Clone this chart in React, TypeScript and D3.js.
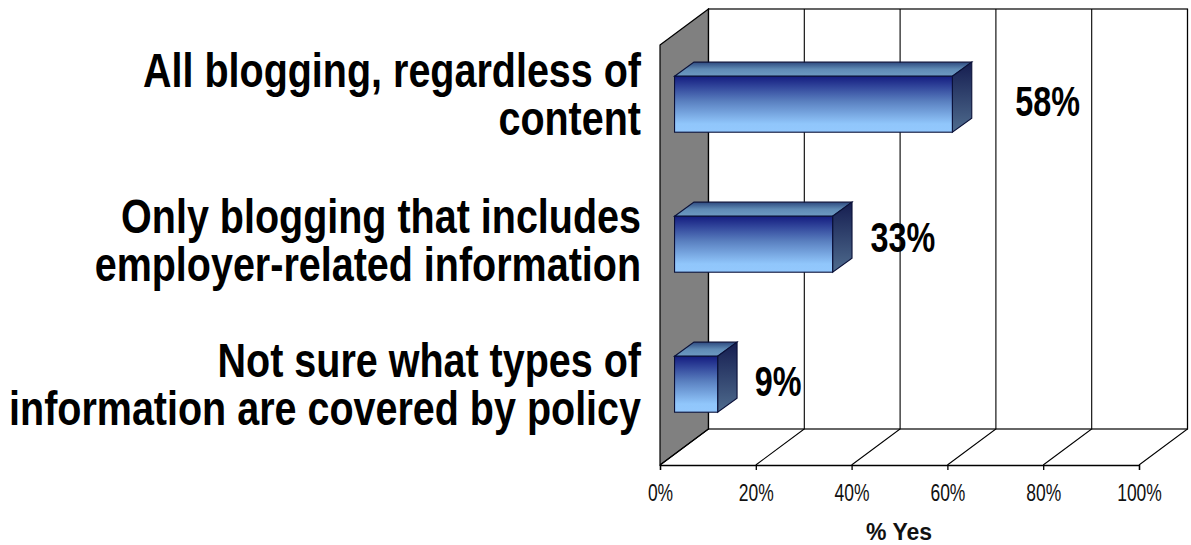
import React, { useEffect, useRef } from 'react';
import * as d3 from 'd3';

const categories = [
  ['All blogging, regardless of', 'content'],
  ['Only blogging that includes', 'employer-related information'],
  ['Not sure what types of', 'information are covered by policy'],
];
const values = [58, 33, 9];
const xTicks = [0, 20, 40, 60, 80, 100];
const xTitle = '% Yes';

const FONT = '"Liberation Sans", Arial, sans-serif';

export default function App() {
  const svgRef = useRef<SVGSVGElement>(null);

  useEffect(() => {
    const svg = d3.select(svgRef.current);
    svg.selectAll('*').remove();

    const left = 660;
    const right = 1139;
    const top = 45;
    const bottom = 465;
    const depthX = 48.5;
    const depthY = 36;

    const x = d3.scaleLinear().domain([0, 100]).range([left, right]);
    const y = d3
      .scaleBand<number>()
      .domain(d3.range(values.length))
      .range([top, bottom])
      .paddingInner(0.6)
      .paddingOuter(0.3);

    // gradients
    const defs = svg.append('defs');
    const gradient = (id: string, stops: [number, string][]) => {
      const g = defs.append('linearGradient').attr('id', id).attr('x1', 0).attr('y1', 0).attr('x2', 0).attr('y2', 1);
      stops.forEach(s => g.append('stop').attr('offset', s[0]).attr('stop-color', s[1]));
    };
    gradient('front', [[0, '#141c80'], [0.45, '#5a80c0'], [0.85, '#90c6fb'], [1, '#93c8fd']]);
    gradient('topFace', [[0, '#2e4a80'], [0.5, '#5f8ab5'], [1, '#6d9ac2']]);
    gradient('sideFace', [[0, '#151d50'], [1, '#4f6c8e']]);

    const ink = '#000';

    // back wall and grid
    const wall = svg.append('g');
    wall
      .append('path')
      .attr('d', d3.line()([[left, top], [left + depthX, top - depthY], [left + depthX, bottom - depthY], [left, bottom]]) + 'Z')
      .attr('fill', '#808080')
      .attr('stroke', ink)
      .attr('stroke-width', 1.2);
    wall
      .append('rect')
      .attr('x', left + depthX)
      .attr('y', top - depthY)
      .attr('width', right - left)
      .attr('height', bottom - top)
      .attr('fill', '#fff')
      .attr('stroke', ink)
      .attr('stroke-width', 1.2);
    wall
      .selectAll('.grid')
      .data(xTicks)
      .enter()
      .append('path')
      .attr('class', 'grid')
      .attr('d', d => d3.line()([[x(d), bottom], [x(d) + depthX, bottom - depthY], [x(d) + depthX, top - depthY]]))
      .attr('fill', 'none')
      .attr('stroke', ink)
      .attr('stroke-width', 1.1);

    // axis
    const axis = svg
      .append('g')
      .attr('transform', `translate(0,${bottom})`)
      .call(
        d3
          .axisBottom(x)
          .tickValues(xTicks)
          .tickSize(5)
          .tickSizeOuter(5)
          .tickFormat(d => `${d}%`)
      );
    axis.selectAll('path,line').attr('stroke', ink).attr('stroke-width', 1.3);
    axis
      .selectAll('text')
      .attr('font-family', FONT)
      .attr('font-size', 23)
      .attr('fill', '#111')
      .attr('y', null)
      .attr('dy', null)
      .attr('transform', 'translate(0,35.7) scale(0.76,1)');

    // bars
    const barShiftX = depthX * 0.3;
    const barShiftY = depthY * 0.3;
    const barDX = depthX * 0.4;
    const barDY = depthY * 0.39;

    const bars = svg
      .selectAll('.bar')
      .data(values)
      .enter()
      .append('g')
      .attr('class', 'bar')
      .attr('transform', (_, i) => `translate(${barShiftX},${y(i)! - barShiftY})`);

    const w = (d: number) => x(d) - x(0);
    const edge = '#0a1038';

    bars
      .append('path')
      .attr('d', d => d3.line()([[x(0), 0], [x(0) + barDX, -barDY], [x(0) + w(d) + barDX, -barDY], [x(0) + w(d), 0]]) + 'Z')
      .attr('fill', 'url(#topFace)')
      .attr('stroke', edge)
      .attr('stroke-width', 1.1);
    bars
      .append('path')
      .attr('d', d => {
        const h = y.bandwidth();
        const r = x(0) + w(d);
        return d3.line()([[r, 0], [r + barDX, -barDY], [r + barDX, h - barDY], [r, h]]) + 'Z';
      })
      .attr('fill', 'url(#sideFace)')
      .attr('stroke', edge)
      .attr('stroke-width', 1.1);
    bars
      .append('rect')
      .attr('x', x(0))
      .attr('y', 0)
      .attr('width', d => w(d))
      .attr('height', y.bandwidth())
      .attr('fill', 'url(#front)')
      .attr('stroke', edge)
      .attr('stroke-width', 1.1);

    // value labels
    const labelGap = [63, 38, 37];
    const labelY = [116, 252, 396];
    svg
      .selectAll('.value')
      .data(values)
      .enter()
      .append('text')
      .attr('class', 'value')
      .attr('transform', (d, i) => `translate(${x(d) + barShiftX + labelGap[i]},${labelY[i]}) scale(0.77,1)`)
      .attr('font-family', FONT)
      .attr('font-weight', 700)
      .attr('font-size', 42)
      .attr('fill', '#000')
      .text(d => `${d}%`);

    // category labels
    const catBaseline = [87, 233, 377];
    categories.forEach((lines, i) => {
      lines.forEach((line, j) => {
        svg
          .append('text')
          .attr('transform', `translate(641,${catBaseline[i] + j * 48}) scale(0.823,1)`)
          .attr('text-anchor', 'end')
          .attr('font-family', FONT)
          .attr('font-weight', 700)
          .attr('font-size', 48)
          .attr('fill', '#000')
          .text(line);
      });
    });

    // axis title
    svg
      .append('text')
      .attr('x', 899)
      .attr('y', 540)
      .attr('text-anchor', 'middle')
      .attr('font-family', FONT)
      .attr('font-weight', 700)
      .attr('font-size', 23)
      .attr('fill', '#111')
      .text(xTitle);
  }, []);

  return <svg ref={svgRef} width={1191} height={545} style={{ position: 'absolute', left: 0, top: 0, background: '#fff' }} />;
}
